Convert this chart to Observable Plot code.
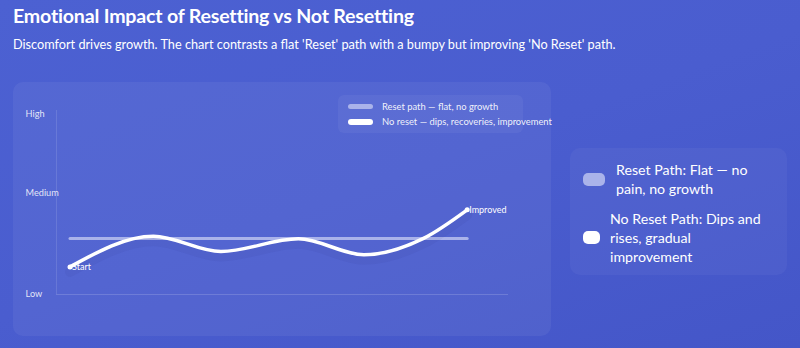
<!DOCTYPE html>
<html><head><meta charset="utf-8">
<script src="https://cdn.jsdelivr.net/npm/d3@7"></script>
<script src="https://cdn.jsdelivr.net/npm/@observablehq/plot@0.6"></script>
<style>
html,body{margin:0;padding:0;}
body{width:800px;height:348px;overflow:hidden;position:relative;font-family:"Segoe UI",Lato,"Noto Sans",sans-serif;color:#fff;
background:linear-gradient(160deg,#4c61d2 0%,#4a5dcf 50%,#4456c8 100%);}
#title{position:absolute;left:13px;top:4px;font-size:19.6px;font-weight:700;letter-spacing:-0.2px;}
#sub{position:absolute;left:13px;top:36px;font-size:12.7px;}
#card{position:absolute;left:13px;top:82px;width:538px;height:254px;border-radius:10px;background:rgba(255,255,255,0.055);}
#card svg{position:absolute;left:0;top:0;}
#leg{position:absolute;left:325px;top:13px;width:185px;height:38px;border-radius:6px;background:rgba(255,255,255,0.05);}
.li{position:absolute;left:10px;font-size:9.4px;white-space:nowrap;display:flex;align-items:center;color:rgba(255,255,255,0.92);}
.li span.sw{display:inline-block;width:25px;border-radius:3px;margin-right:9px;}
#side{position:absolute;left:570px;top:148px;width:217px;height:127px;border-radius:10px;background:rgba(255,255,255,0.04);}
.si{position:absolute;left:13px;display:flex;align-items:center;font-size:14.2px;line-height:19px;}
.si .sw{border-radius:5px;flex:none;}
.si .tx{width:158px;}
</style></head><body>
<div id="title">Emotional Impact of Resetting vs Not Resetting</div>
<div id="sub">Discomfort drives growth. The chart contrasts a flat 'Reset' path with a bumpy but improving 'No Reset' path.</div>
<div id="card">
  <div id="leg">
    <div class="li" style="top:6px"><span class="sw" style="height:5px;background:#aab3ea"></span>Reset path — flat, no growth</div>
    <div class="li" style="top:21px"><span class="sw" style="height:6px;background:#fff"></span>No reset — dips, recoveries, improvement</div>
  </div>
</div>
<div id="side">
  <div class="si" style="top:12px"><span class="sw" style="width:22px;height:13px;background:#aab3ea;margin-right:11px"></span><span class="tx">Reset Path: Flat — no pain, no growth</span></div>
  <div class="si" style="top:61px"><span class="sw" style="width:17px;height:13px;background:#fff;margin-right:10px"></span><span class="tx">No Reset Path: Dips and rises, gradual improvement</span></div>
</div>
<script>
// Data
const stepX = [0, 2.1, 3.8, 5.75, 7.4, 8.9, 10];
const noResetY = [1.5, 3.17, 2.34, 3.03, 2.16, 3.05, 4.6];
const resetX = [0, 10];
const resetY = [3.05, 3.05];
const yTickValues = [0, 5.5, 9.8];
const yTickLabels = ["Low", "Medium", "High"];
const endLabels = ["Start", "Improved"];

const noReset = stepX.map((x, i) => ({x, y: noResetY[i]}));
const reset = resetX.map((x, i) => ({x, y: resetY[i]}));
const ends = [
  {x: stepX[0], y: noResetY[0], label: endLabels[0]},
  {x: stepX[stepX.length - 1], y: noResetY[noResetY.length - 1], label: endLabels[1]}
];
const xDomain = [-0.34, 11.04];

const chart = Plot.plot({
  width: 538, height: 254,
  marginLeft: 43, marginRight: 43, marginTop: 28, marginBottom: 42,
  style: {background: "transparent", fontFamily: "'Segoe UI', Lato, 'Noto Sans', sans-serif", overflow: "visible"},
  x: {domain: xDomain, axis: null},
  y: {domain: [0, 10]},
  marks: [
    Plot.ruleY([0], {x1: xDomain[0], x2: xDomain[1], stroke: "#fff", strokeOpacity: 0.16}),
    Plot.ruleX([xDomain[0]], {y1: 0, y2: 10, stroke: "#fff", strokeOpacity: 0.12}),
    Plot.axisY({ticks: yTickValues, tickFormat: (d, i) => yTickLabels[i], tickSize: 0, tickPadding: 0,
      textAnchor: "start", dx: -31, fontSize: 9.2, fill: "rgba(255,255,255,0.85)", label: null}),
    Plot.line(reset, {x: "x", y: "y", stroke: "#aab3ea", strokeWidth: 3}),
    Plot.line(noReset, {x: "x", y: "y", curve: "monotone-x", stroke: "#1a237e", strokeOpacity: 0.06, strokeWidth: 10, dy: 5}),
    Plot.line(noReset, {x: "x", y: "y", curve: "monotone-x", stroke: "#fff", strokeWidth: 3.5}),
    Plot.dot(ends, {x: "x", y: "y", r: 2.5, fill: "#fff"}),
    Plot.text(ends, {x: "x", y: "y", text: "label", textAnchor: "start", dx: 2, fontSize: 9, fill: "#fff"})
  ]
});
document.getElementById("card").appendChild(chart);
</script>
</body></html>
